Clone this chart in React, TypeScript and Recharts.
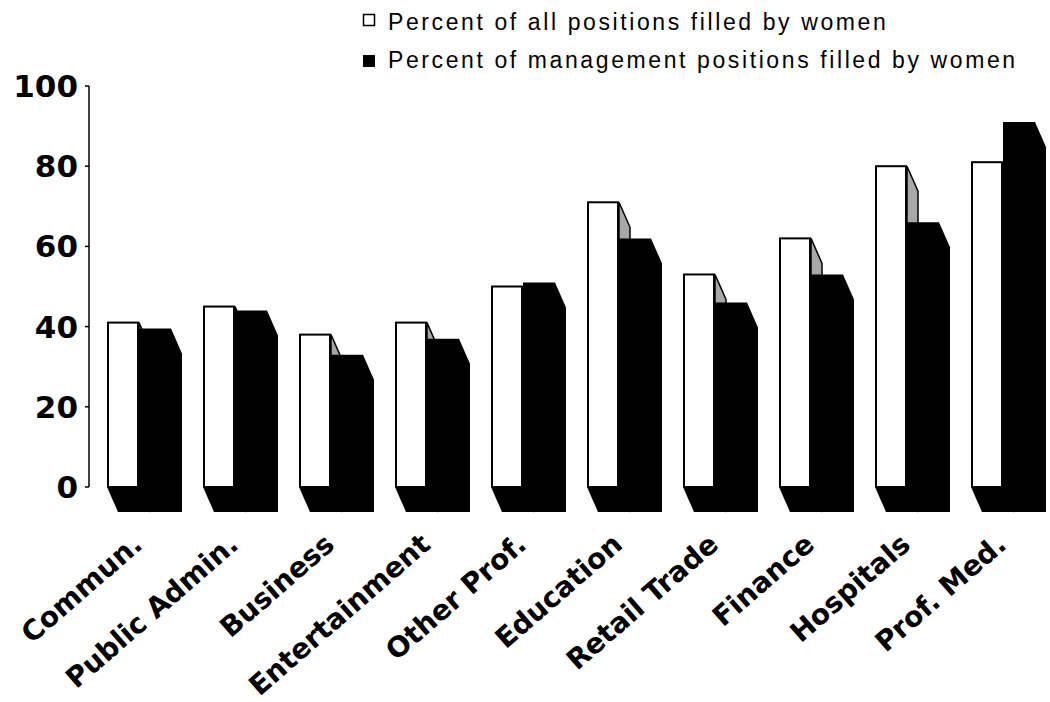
import React from 'react';
import { BarChart, Bar, XAxis, YAxis, Legend } from 'recharts';

const categories = ['Commun.', 'Public Admin.', 'Business', 'Entertainment', 'Other Prof.', 'Education', 'Retail Trade', 'Finance', 'Hospitals', 'Prof. Med.'];
const allPositions = [41, 45, 38, 41, 50, 71, 53, 62, 80, 81];
const managementPositions = [39.5, 44, 33, 37, 51, 62, 46, 53, 66, 91];
const yTicks = [0, 20, 40, 60, 80, 100];
const seriesNames = ['Percent of all positions filled by women', 'Percent of management positions filled by women'];

const data = categories.map((c, i) => ({ name: c, all: allPositions[i], mgmt: managementPositions[i] }));

const DX = 11;
const DY = 25;

const WhiteBar = (p: any) => {
  const { x, y, width: w, height: h } = p;
  if (h == null || isNaN(h)) return null;
  return (
    <g>
      <polygon points={`${x},${y + h} ${x + w},${y + h} ${x + w + DX},${y + h + DY} ${x + DX},${y + h + DY}`} fill="#000" />
      <polygon points={`${x + w},${y} ${x + w + DX},${y + DY} ${x + w + DX},${y + h + DY} ${x + w},${y + h}`} fill="#a8a8a8" stroke="#000" strokeWidth={1.5} />
      <rect x={x + 1} y={y} width={w - 2} height={h} fill="#fff" stroke="#000" strokeWidth={2} />
    </g>
  );
};

const BlackBar = (p: any) => {
  const { x, y, width: w, height: h } = p;
  if (h == null || isNaN(h)) return null;
  return (
    <polygon
      points={`${x},${y} ${x + w},${y} ${x + w + DX},${y + DY} ${x + w + DX},${y + h + DY} ${x + DX},${y + h + DY} ${x},${y + h}`}
      fill="#000"
    />
  );
};

const XTick = (p: any) => {
  const { x, y, payload } = p;
  const tx = x + 5;
  const ty = y + 60;
  return (
    <text
      x={tx}
      y={ty}
      textAnchor="end"
      transform={`rotate(-41, ${tx}, ${ty})`}
      fontFamily="DejaVu Sans"
      fontWeight="bold"
      fontSize={28}
      fill="#000"
    >
      {payload.value}
    </text>
  );
};

const renderLegend = () => (
  <svg width={690} height={80} style={{ display: 'block' }}>
    <rect x={3.5} y={14.5} width={11} height={11} fill="#fff" stroke="#000" strokeWidth={1.5} />
    <text x={28} y={30} fontFamily="Liberation Sans" fontSize={23} style={{ letterSpacing: '2.6px' }} fill="#000">
      {seriesNames[0]}
    </text>
    <rect x={3} y={55} width={12} height={12} fill="#000" />
    <text x={28} y={68} fontFamily="Liberation Sans" fontSize={23} style={{ letterSpacing: '2.6px' }} fill="#000">
      {seriesNames[1]}
    </text>
  </svg>
);

export default function App() {
  return (
    <div style={{ position: 'absolute', left: 0, top: 0, width: 1050, height: 702, overflow: 'hidden', background: '#fff' }}>
      <BarChart
        width={1060}
        height={702}
        data={data}
        margin={{ top: 86, right: 9, left: 0, bottom: 155 }}
        barSize={32}
        barGap={0}
      >
        <XAxis
          dataKey="name"
          height={60}
          axisLine={false}
          tickLine={false}
          tickSize={0}
          tickMargin={0}
          interval={0}
          padding={{ left: 2, right: 0 }}
          tick={<XTick />}
        />
        <YAxis
          width={89}
          domain={[0, 100]}
          ticks={yTicks}
          interval={0}
          axisLine={{ stroke: '#000', strokeWidth: 1.5 }}
          tickLine={{ stroke: '#000', strokeWidth: 1.5 }}
          tickSize={4}
          tickMargin={7}
          tick={{ fill: '#000', fontSize: 31, fontFamily: 'DejaVu Sans', fontWeight: 'bold' }}
        />
        <Legend
          layout="vertical"
          align="center"
          verticalAlign="middle"
          content={renderLegend}
          wrapperStyle={{ position: 'absolute', top: 0, left: 360, width: 690, height: 80 }}
        />
        <Bar dataKey="all" name={seriesNames[0]} fill="#fff" shape={WhiteBar} isAnimationActive={false} />
        <Bar dataKey="mgmt" name={seriesNames[1]} fill="#000" shape={BlackBar} isAnimationActive={false} />
      </BarChart>
    </div>
  );
}
